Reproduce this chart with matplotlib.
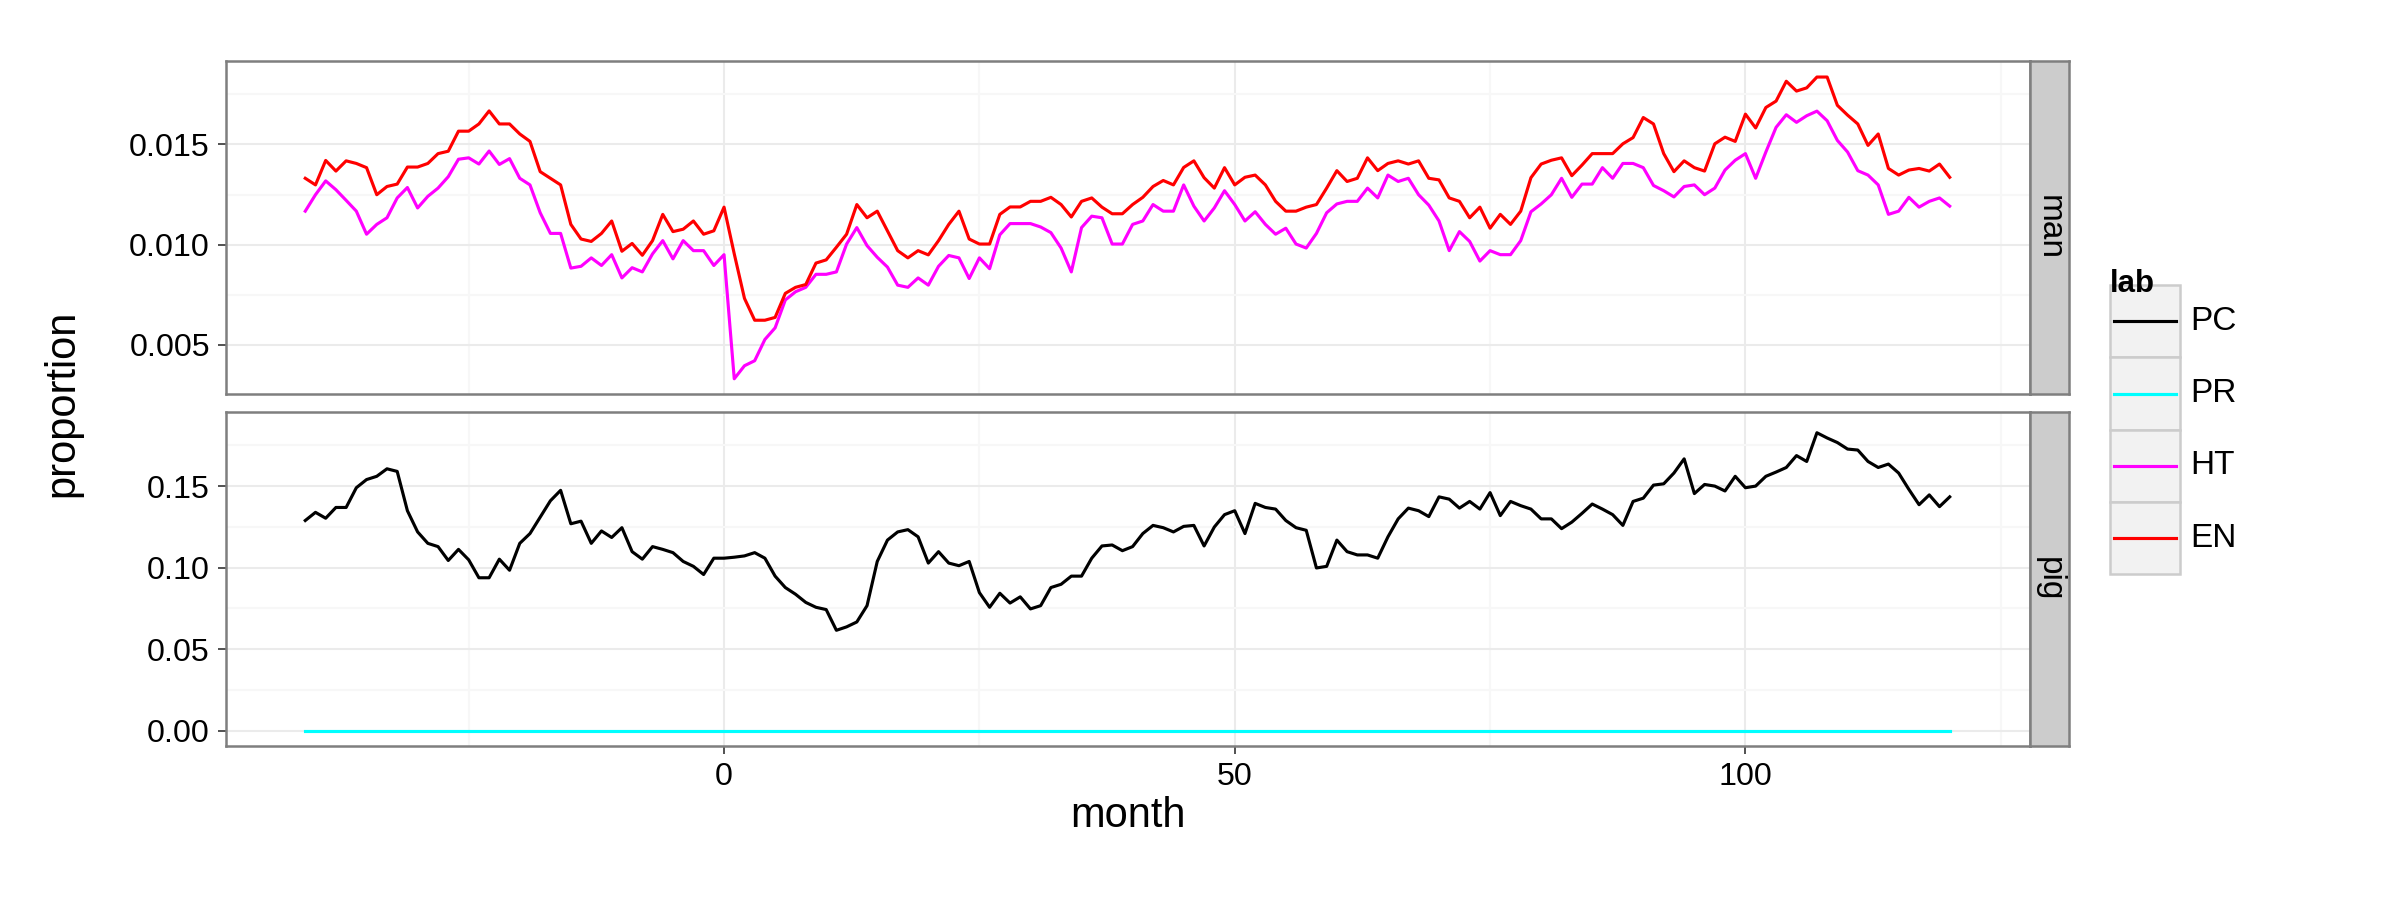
import numpy as np
import matplotlib
matplotlib.use("Agg")
import matplotlib.pyplot as plt
from matplotlib.patches import Rectangle

months = list(range(-41, 121))

EN = [0.01331,0.01298,0.0142,0.01367,0.01418,0.01405,0.01384,0.01249,0.0129,0.01302,
      0.01387,0.01387,0.01405,0.01454,0.01466,0.01566,0.01566,0.01602,0.01667,0.01602,
      0.01602,0.01552,0.01515,0.01364,0.01331,0.01298,0.01101,0.01028,0.01016,0.01056,
      0.01118,0.00967,0.01006,0.00947,0.0102,0.01151,0.01065,0.01077,0.01118,0.01052,
      0.01069,0.01187,0.00954,0.00732,0.00623,0.00623,0.00637,0.00757,0.00787,0.00801,
      0.00908,0.00924,0.00987,0.01052,0.012,0.01134,0.01167,0.01069,0.0097,0.00934,
      0.0097,0.00949,0.0102,0.01101,0.01167,0.01028,0.01003,0.01003,0.01151,0.01188,
      0.01188,0.01216,0.01216,0.01236,0.012,0.01138,0.01216,0.01233,
      0.01187,0.01154,0.01154,0.0120,0.01236,0.0129,0.0132,0.01298,0.01385,0.01418,
      0.01334,0.01282,0.01384,0.01298,0.01336,0.01347,0.01298,0.01216,0.01167,0.01167,
      0.01187,0.0120,0.01282,0.01369,0.01315,0.01331,0.01433,0.01369,0.01405,0.01418,
      0.01402,0.01418,0.01331,0.01323,0.01233,0.01216,0.01134,0.01187,0.01082,0.01151,
      0.01101,0.01167,0.01334,0.01402,0.01421,0.01433,0.01344,0.01397,0.01454,0.01454,
      0.01454,0.01503,0.01534,0.01634,0.01602,0.01454,0.01364,0.01418,0.01384,0.01367,
      0.01503,0.01536,0.01515,0.01651,0.01582,0.01684,0.01716,0.01815,0.01766,0.01782,
      0.01836,0.01836,0.01695,0.01646,0.01602,0.01495,0.01552,0.0138,0.01347,0.01372,
      0.0138,0.01367,0.01402,0.01336]

HT = [0.01167,0.01249,0.01318,0.01274,0.01221,0.01167,0.01052,0.01101,0.01134,0.01233,
      0.01285,0.01183,0.01241,0.01282,0.01339,0.01426,0.01433,0.01402,0.01467,0.014,
      0.01429,0.01331,0.01298,0.01159,0.01056,0.01056,0.00883,0.00892,0.00934,0.00896,
      0.0095,0.00834,0.00885,0.00864,0.00954,0.0102,0.00929,0.0102,0.0097,0.0097,
      0.00896,0.0095,0.00331,0.00396,0.00421,0.00527,0.00585,0.00724,0.00765,0.00787,
      0.00852,0.00852,0.00864,0.01003,0.01085,0.00995,0.00937,0.00888,0.00798,0.00787,
      0.00834,0.00798,0.00892,0.00946,0.00934,0.00831,0.00934,0.0088,0.01049,0.01105,
      0.01105,0.01105,0.01088,0.0106,0.00983,0.00864,0.01085,0.01142,
      0.01134,0.01003,0.01003,0.01101,0.01118,0.0120,0.01167,0.01167,0.01298,0.01192,
      0.01118,0.01183,0.01269,0.0120,0.01118,0.01164,0.01101,0.01052,0.01082,0.01003,
      0.00983,0.01056,0.01159,0.01203,0.01216,0.01216,0.01282,0.01233,0.01347,0.01315,
      0.01331,0.01249,0.01197,0.01118,0.0097,0.01065,0.01016,0.00918,0.0097,0.0095,
      0.0095,0.0102,0.01164,0.01203,0.01249,0.01331,0.01236,0.01302,0.01302,0.01384,
      0.01331,0.01405,0.01405,0.01384,0.01295,0.01269,0.01238,0.0129,0.01298,0.01249,
      0.01282,0.01372,0.01421,0.01454,0.01331,0.01462,0.01585,0.01648,0.0161,0.01643,
      0.01666,0.01618,0.0152,0.01462,0.01369,0.01347,0.01298,0.01151,0.01167,0.01236,
      0.01187,0.01216,0.01233,0.01192]

PC = [0.1289,0.1339,0.1303,0.1369,0.1369,0.149,0.154,0.156,0.1606,0.159,
      0.1349,0.1219,0.1149,0.1129,0.1044,0.1112,0.1048,0.0938,0.0938,0.1052,
      0.0984,0.1149,0.1209,0.1309,0.141,0.1474,0.1269,0.1285,0.1149,0.1225,
      0.1185,0.1245,0.1098,0.1052,0.1129,0.1112,0.1092,0.1038,0.1008,0.0958,
      0.1058,0.1058,0.1064,0.1072,0.1092,0.1058,0.0948,0.0878,0.0837,0.0787,
      0.0757,0.0743,0.0616,0.0637,0.0667,0.0767,0.1038,0.1169,0.1219,0.1233,
      0.1189,0.1028,0.1098,0.1028,0.1012,0.1038,0.0847,0.0757,0.0843,0.0783,
      0.0821,0.0747,0.0767,0.0878,0.0898,0.0948,0.0948,0.1058,0.1133,0.1139,
      0.1104,0.1129,0.1209,0.1259,0.1245,0.1219,0.1253,0.1259,0.1133,0.1249,
      0.1325,0.1349,0.1209,0.1394,0.1369,0.1359,0.1289,0.1245,0.1229,0.0998,
      0.1008,0.1169,0.1098,0.1078,0.1078,0.1058,0.1189,0.1299,0.1365,0.1349,
      0.1313,0.1434,0.142,0.1365,0.1406,0.1359,0.146,0.1319,0.1406,0.138,
      0.1359,0.1299,0.1299,0.1239,0.1279,0.1333,0.139,0.1359,0.1325,0.1259,
      0.1406,0.1426,0.1506,0.1514,0.158,0.1667,0.1454,0.151,0.15,0.147,
      0.156,0.149,0.15,0.156,0.1586,0.1614,0.1687,0.1651,0.1827,0.1795,
      0.1767,0.1727,0.1721,0.1651,0.1614,0.1635,0.158,0.148,0.1386,0.1446,
      0.1374,0.1434]

PR = [0.0] * len(months)

labels = ["PC", "PR", "HT", "EN"]
colors = {"PC": "black", "PR": "#00FFFF", "HT": "#FF00FF", "EN": "#FF0000"}
panels = ["man", "pig"]

plt.rcParams['font.family'] = ['Liberation Sans', 'DejaVu Sans']
fig = plt.figure(figsize=(16, 6), dpi=150)
L, R, SW = 0.094, 0.846, 0.016
ax1 = fig.add_axes([L, 0.562, R - L, 0.932 - 0.562])
ax2 = fig.add_axes([L, 0.171, R - L, 0.542 - 0.171])

def style(ax, yt, ylim, minor):
    ax.set_facecolor("white")
    ax.set_xlim(-48.8, 127.9)
    ax.set_ylim(*ylim)
    ax.set_yticks(yt)
    ax.set_yticks(minor, minor=True)
    ax.set_xticks([0, 50, 100])
    ax.set_xticks([-25, 25, 75, 125], minor=True)
    ax.grid(True, which="major", color="#EBEBEB", lw=1.0)
    ax.grid(True, which="minor", color="#F7F7F7", lw=1.0)
    ax.set_axisbelow(True)
    for s in ax.spines.values():
        s.set_color("#7F7F7F"); s.set_linewidth(1.2)
    ax.tick_params(which="major", labelsize=15.5, length=4, color="#333333")
    ax.tick_params(which="minor", length=0)

style(ax1, [0.005, 0.010, 0.015], (0.00254, 0.01915), [0.0075, 0.0125, 0.0175])
ax1.set_yticklabels(["0.005", "0.010", "0.015"])
ax1.tick_params(axis="x", labelbottom=False, length=0)
style(ax2, [0.0, 0.05, 0.10, 0.15], (-0.0094, 0.1953), [0.025, 0.075, 0.125, 0.175])
ax2.set_yticklabels(["0.00", "0.05", "0.10", "0.15"])

ax1.plot(months, HT, color=colors["HT"], lw=1.5)
ax1.plot(months, EN, color=colors["EN"], lw=1.5)
ax2.plot(months, PC, color=colors["PC"], lw=1.5)
ax2.plot(months, PR, color=colors["PR"], lw=1.5)

ax2.set_xlabel("month", fontsize=20, labelpad=2)
fig.text(0.026, 0.552, "proportion", rotation=90, fontsize=20, ha="center", va="center")

for ax, name in zip([ax1, ax2], panels):
    pos = ax.get_position()
    sax = fig.add_axes([pos.x1, pos.y0, SW, pos.height])
    sax.set_facecolor("#CCCCCC")
    sax.set_xticks([]); sax.set_yticks([])
    for s in sax.spines.values():
        s.set_color("#7F7F7F"); s.set_linewidth(1.2)
    sax.text(0.5, 0.5, name, rotation=270, ha="center", va="center", fontsize=16,
             transform=sax.transAxes)

# legend
fig.text(0.879, 0.685, "lab", fontsize=15, fontweight="bold", ha="left", va="center")
kw, kh = 0.0295, 0.0803
for i, lab in enumerate(labels):
    yc = 0.643 - i * 0.0803
    x0 = 0.879
    rect = Rectangle((x0, yc - kh / 2), kw, kh, transform=fig.transFigure,
                     facecolor="#F2F2F2", edgecolor="#CCCCCC", lw=1.2)
    fig.add_artist(rect)
    fig.add_artist(plt.Line2D([x0 + 0.002, x0 + kw - 0.002], [yc, yc],
                              transform=fig.transFigure, color=colors[lab], lw=1.5))
    fig.text(x0 + kw + 0.004, yc, lab, fontsize=16, ha="left", va="center")

fig.savefig("out.png", dpi=150, facecolor="white")
